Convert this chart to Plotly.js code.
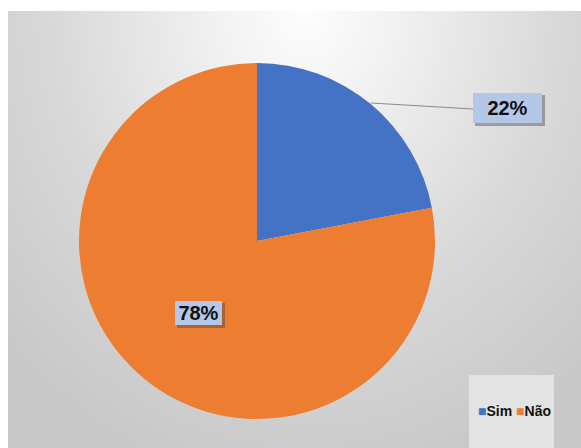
<!DOCTYPE html>
<html>
<head>
<meta charset="utf-8">
<script src="https://cdn.plot.ly/plotly-3.0.1.min.js"></script>
<style>
  html, body { margin: 0; padding: 0; background: #ffffff; }
  #wrap { position: relative; width: 581px; height: 448px; overflow: hidden; }
  #bg { position: absolute; left: 8px; top: 11px; width: 573px; height: 437px;
        background: radial-gradient(ellipse 72% 110% at 52% 0%, #fdfdfd 0%, #f1f1f1 22%, #d8d8d8 62%, #c8c8c8 100%); }
  #chart { position: absolute; left: 0; top: 0; width: 581px; height: 448px; }
</style>
</head>
<body>
<div id="wrap"><div id="bg"></div><div id="chart"></div></div>
<script>
// ---- data ----
const categories = ["Sim", "Não"];
const values = [22, 78];
const sliceColors = ["#4472C4", "#ED7D31"];

// ---- layout helpers (pixel -> paper) ----
const W = 581, H = 448;
const px = x => x / W;
const py = y => 1 - y / H;

const total = values.reduce((a, b) => a + b, 0);
const pctText = values.map(v => Math.round(v / total * 100) + "%");

// label boxes (layout positions)
const boxes = [
  { x0: 473, x1: 542, y0: 93, y1: 123 },   // Sim
  { x0: 175, x1: 222, y0: 301, y1: 325 }   // Não
];

const shapes = [];
const annotations = [];
boxes.forEach((b, i) => {
  // shadow
  shapes.push({ type: "rect", xref: "paper", yref: "paper", layer: "above",
    x0: px(b.x0 + 2), x1: px(b.x1 + 3), y0: py(b.y1 + 3), y1: py(b.y0 + 2),
    fillcolor: "rgba(60,60,60,0.4)", line: { width: 0 } });
  annotations.push({ xref: "paper", yref: "paper", showarrow: false,
    x: px((b.x0 + b.x1) / 2), y: py((b.y0 + b.y1) / 2),
    xanchor: "center", yanchor: "middle",
    width: b.x1 - b.x0, height: b.y1 - b.y0, borderpad: 0, borderwidth: 0,
    bgcolor: "#B4C7E7", text: "<b>" + pctText[i] + "</b>",
    font: { family: "Arial, 'Liberation Sans', sans-serif", size: 20, color: "#111111" } });
});

// leader line for the Sim label
shapes.push({ type: "line", xref: "paper", yref: "paper", layer: "above",
  x0: px(371), y0: py(103), x1: px(473), y1: py(109),
  line: { color: "#8a8a8a", width: 1 } });

// legend box + legend entries
shapes.push({ type: "rect", xref: "paper", yref: "paper", layer: "below",
  x0: px(469), x1: px(554), y0: py(448), y1: py(375),
  fillcolor: "#e3e3e3", line: { width: 0 } });
annotations.push({ xref: "paper", yref: "paper", showarrow: false,
  x: px(514), y: py(411), xanchor: "center", yanchor: "middle",
  text: categories.map((c, i) => '<span style="color:' + sliceColors[i] + '">■</span><b>' + c + '</b>').join(" "),
  font: { family: "Arial, 'Liberation Sans', sans-serif", size: 14, color: "#111111" } });

const trace = {
  type: "pie",
  labels: categories,
  values: values,
  sort: false,
  direction: "clockwise",
  rotation: 0,
  marker: { colors: sliceColors, line: { width: 0 } },
  textinfo: "none",
  hoverinfo: "label+percent",
  domain: { x: [px(79), px(435)], y: [py(419), py(63)] }
};

const layout = {
  width: W, height: H,
  margin: { l: 0, r: 0, t: 0, b: 0 },
  paper_bgcolor: "rgba(0,0,0,0)",
  plot_bgcolor: "rgba(0,0,0,0)",
  showlegend: false,
  shapes: shapes,
  annotations: annotations
};

Plotly.newPlot("chart", [trace], layout, { displayModeBar: false, staticPlot: true });
</script>
</body>
</html>
